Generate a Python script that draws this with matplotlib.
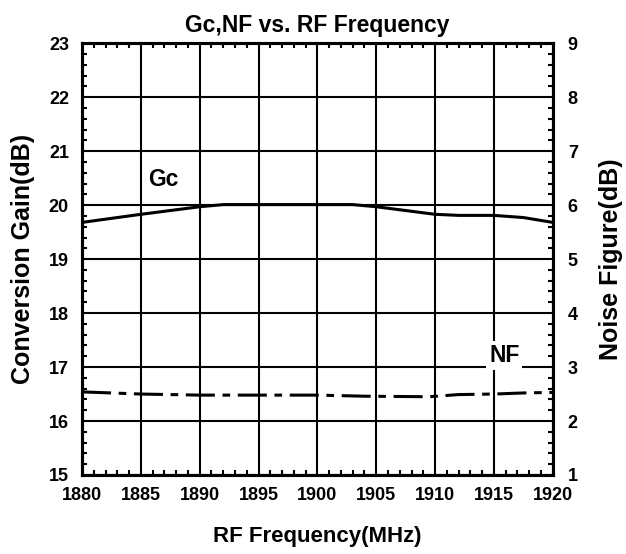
import matplotlib
matplotlib.use("Agg")
import matplotlib.pyplot as plt
from matplotlib import font_manager
from matplotlib.ticker import MultipleLocator

plt.rcParams['font.family'] = ['Liberation Sans', 'DejaVu Sans']
plt.rcParams['font.weight'] = 'bold'

# Conversion gain (left axis)
gc_freq = [1880, 1885, 1890, 1892, 1895, 1900, 1903, 1905, 1910, 1912, 1915, 1917.5, 1920]
gc_db = [19.68, 19.83, 19.97, 20.01, 20.01, 20.01, 20.01, 19.97, 19.83, 19.81, 19.81, 19.77, 19.68]

# Noise figure (right axis)
nf_freq = [1880, 1885, 1890, 1895, 1900, 1904, 1909.5, 1912, 1915, 1917.5, 1920]
nf_db = [2.54, 2.50, 2.48, 2.48, 2.48, 2.46, 2.45, 2.49, 2.50, 2.52, 2.53]

# narrow face for the title if it is there
names = set(f.name for f in font_manager.fontManager.ttflist)
if 'Liberation Sans Narrow' in names:
    title_font, title_size = 'Liberation Sans Narrow', 20
else:
    title_font, title_size = 'Liberation Sans', 16.5

fig = plt.figure(figsize=(6.26, 5.54), dpi=100)
ax = fig.add_axes([0.131, 0.1426, 0.752, 0.7794])
ax2 = ax.twinx()

ax.set_xlim(1880, 1920)
ax.set_ylim(15, 23)
ax2.set_ylim(1, 9)

ax.grid(True, color='black', linewidth=1.5)
ax.set_axisbelow(True)

ax.plot(gc_freq, gc_db, color='black', linewidth=2.2, solid_capstyle='butt')
ax2.plot(nf_freq, nf_db, color='black', linewidth=2.2, dashes=(9.5, 2.5, 2.5, 2.5))

ax.text(1885.6, 20.35, 'Gc', fontsize=16.5, fontweight='bold', ha='left', va='baseline')
ax2.text(1914.6, 3.09, 'NF', fontsize=16.5, fontweight='bold', ha='left', va='baseline',
         bbox=dict(facecolor='white', edgecolor='none', pad=2))

ax.xaxis.set_major_locator(MultipleLocator(5))
ax.xaxis.set_minor_locator(MultipleLocator(1))
ax.yaxis.set_major_locator(MultipleLocator(1))
ax.yaxis.set_minor_locator(MultipleLocator(0.2))
ax2.yaxis.set_major_locator(MultipleLocator(1))
ax2.yaxis.set_minor_locator(MultipleLocator(0.2))

for a in (ax, ax2):
    for s in a.spines.values():
        s.set_linewidth(2.2)
ax.tick_params(axis='both', which='major', direction='in', length=0, labelsize=13, pad=9.4)
ax.tick_params(axis='x', which='major', pad=8.6)
ax.tick_params(axis='both', which='minor', direction='in', length=3.5, width=1.5)
ax.tick_params(axis='x', which='minor', top=True, bottom=True)
ax.tick_params(axis='y', which='minor', left=True, right=False)
ax2.tick_params(axis='y', which='major', direction='in', length=0, labelsize=13, pad=10.8)
ax2.tick_params(axis='y', which='minor', direction='in', length=3.5, width=1.5)

for lab in ax.get_xticklabels() + ax.get_yticklabels() + ax2.get_yticklabels():
    lab.set_fontweight('bold')

ax.set_xlabel('RF Frequency(MHz)', fontsize=16, fontweight='bold', labelpad=16)
ax.set_ylabel('Conversion Gain(dB)', fontsize=18, fontweight='bold', labelpad=10)
ax2.set_ylabel('Noise Figure(dB)', fontsize=18, fontweight='bold', labelpad=15)
ax.set_title('Gc,NF vs. RF Frequency', fontsize=title_size, fontweight='bold',
             family=[title_font, 'DejaVu Sans'], pad=8)

fig.savefig('out.png', dpi=100)
